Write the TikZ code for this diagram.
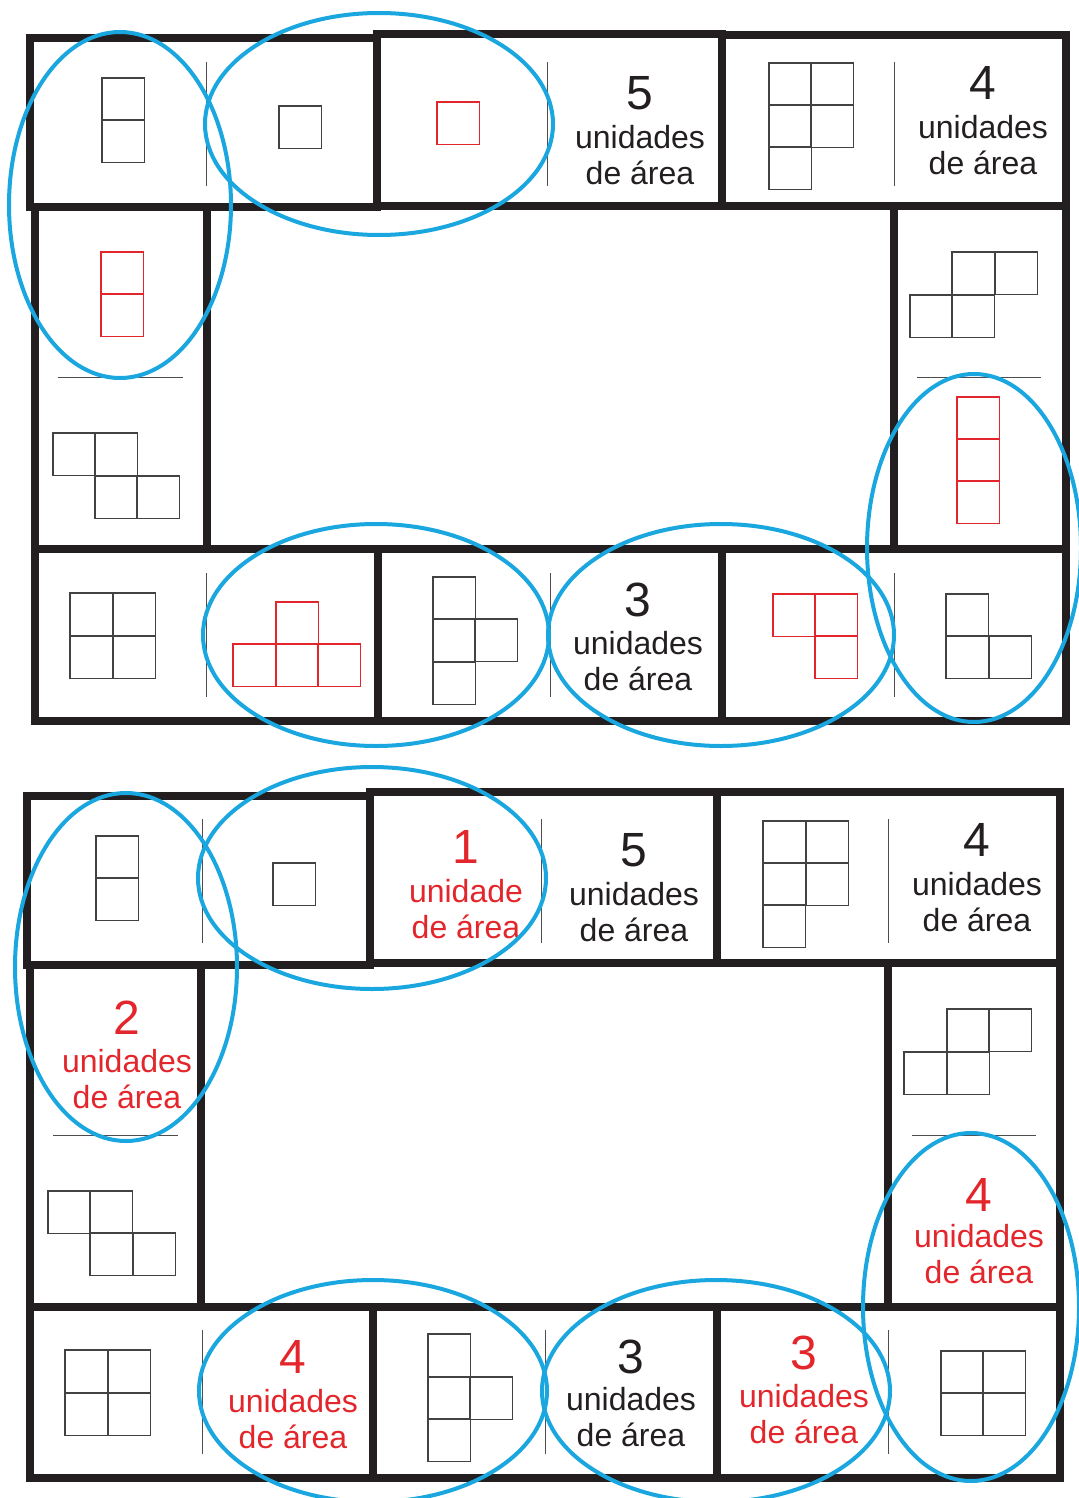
\documentclass[tikz,border=0pt]{standalone}
\usepackage{fontspec}
\setmainfont{Liberation Sans}
\definecolor{ink}{HTML}{231F20}
\definecolor{redink}{HTML}{E3262B}
\definecolor{ringblue}{HTML}{1AA6DE}
\newcommand{\sqcell}[3][cell]{\draw[#1] (#2,#3) rectangle ++(42.5,42.5);}
\tikzset{
  tile/.style={line width=4pt, draw=ink},
  sep/.style={line width=0.5pt, draw=ink!80},
  cell/.style={line width=0.7pt, draw=ink!85},
  redcell/.style={line width=0.6pt, draw=redink},
  ring/.style={line width=2pt, draw=ringblue},
  num/.style={font=\fontsize{24}{24}\selectfont, inner sep=0pt, text=ink},
  txt/.style={font=\fontsize{16}{18}\selectfont, align=center, inner sep=0pt, text=ink},
}
\begin{document}
\begin{tikzpicture}[x=0.5pt, y=-0.5pt, line join=miter]
	\useasboundingbox (0,0) rectangle (1079,1498);
	% first board
	\draw[tile] (30,38) rectangle (377,207);
	\draw[tile] (377,34) rectangle (722,206);
	\draw[tile] (722,35) rectangle (1066,206);
	\draw[tile] (35,207) rectangle (207,549);
	\draw[tile] (894,206) rectangle (1066,549);
	\draw[tile] (35,549) rectangle (378,721);
	\draw[tile] (378,549) rectangle (722,721);
	\draw[tile] (722,549) rectangle (1066,721);
	\foreach \x in {206,547,894} \draw[sep] (\x,62)--(\x,186);
	\foreach \x in {206,550,894} \draw[sep] (\x,573)--(\x,697);
	\draw[sep] (58,377)--(183,377);
	\draw[sep] (917,377)--(1041,377);
	\foreach \x/\y in {102/78,102/120,279/106,769/63,811/63,769/105,811/105,769/147,
		53/433,95/433,95/476,137/476,952/252,995/252,910/295,952/295,
		70/593,113/593,70/636,113/636,433/577,433/619,433/662,475/619,
		946/594,946/636,989/636}
		{\sqcell{\x}{\y}}
	\foreach \x/\y in {437/102,101/252,101/294,957/397,957/439,957/481,
		276/602,233/644,276/644,318/644,773/594,815/594,815/636}
		{\sqcell[redcell]{\x}{\y}}
	\node[num] (n5a) at (640,93) {5};
	\node[txt] (t5a) at (640,155) {unidades\\de área};
	\node[num] (n4a) at (983,83) {4};
	\node[txt] (t4a) at (983,145) {unidades\\de área};
	\node[num] (n3a) at (638,600) {3};
	\node[txt] (t3a) at (638,661) {unidades\\de área};
	\draw[ring] (120,205) ellipse [x radius=55.5pt, y radius=86.5pt];
	\draw[ring] (379,124) ellipse [x radius=87pt, y radius=55.5pt];
	\draw[ring] (376,635) ellipse [x radius=86.5pt, y radius=55.5pt];
	\draw[ring] (721,635) ellipse [x radius=86.5pt, y radius=55.5pt];
	\draw[ring] (974,548) ellipse [x radius=53.5pt, y radius=87pt];
	% second board
	\draw[tile] (27,796) rectangle (370,965);
	\draw[tile] (370,792) rectangle (717,963);
	\draw[tile] (717,792) rectangle (1060,963);
	\draw[tile] (30,965) rectangle (201,1307);
	\draw[tile] (888,963) rectangle (1060,1307);
	\draw[tile] (30,1307) rectangle (373,1478);
	\draw[tile] (373,1307) rectangle (717,1478);
	\draw[tile] (717,1307) rectangle (1060,1478);
	\foreach \x in {202,541,888} \draw[sep] (\x,819)--(\x,943);
	\foreach \x in {202,545,888} \draw[sep] (\x,1330)--(\x,1454);
	\draw[sep] (53,1135)--(178,1135);
	\draw[sep] (912,1135)--(1036,1135);
	\foreach \x/\y in {96/836,96/878,273/863,763/821,806/821,763/863,806/863,763/905,
		48/1191,90/1191,90/1233,133/1233,947/1009,989/1009,904/1052,947/1052,
		65/1350,108/1350,65/1393,108/1393,428/1334,428/1377,428/1419,470/1377,
		941/1351,983/1351,941/1393,983/1393}
		{\sqcell{\x}{\y}}
	\node[num, text=redink] (n1b) at (466,847) {1};
	\node[txt, text=redink] (t1b) at (466,909) {unidade\\de área};
	\node[num] (n5b) at (634,850) {5};
	\node[txt] (t5b) at (634,912) {unidades\\de área};
	\node[num] (n4b) at (977,840) {4};
	\node[txt] (t4b) at (977,902) {unidades\\de área};
	\node[num, text=redink] (n2b) at (127,1018) {2};
	\node[txt, text=redink] (t2b) at (127,1079) {unidades\\de área};
	\node[num, text=redink] (n4c) at (979,1195) {4};
	\node[txt, text=redink] (t4c) at (979,1254) {unidades\\de área};
	\node[num, text=redink] (n4d) at (293,1357) {4};
	\node[txt, text=redink] (t4d) at (293,1419) {unidades\\de área};
	\node[num] (n3b) at (631,1357) {3};
	\node[txt] (t3b) at (631,1417) {unidades\\de área};
	\node[num, text=redink] (n3c) at (804,1353) {3};
	\node[txt, text=redink] (t3c) at (804,1414) {unidades\\de área};
	\draw[ring] (126,967) ellipse [x radius=55.5pt, y radius=87pt];
	\draw[ring] (372,878) ellipse [x radius=87pt, y radius=55.5pt];
	\draw[ring] (373,1391) ellipse [x radius=87pt, y radius=55.5pt];
	\draw[ring] (716,1391) ellipse [x radius=87pt, y radius=55.5pt];
	\draw[ring] (971,1307) ellipse [x radius=54pt, y radius=87pt];
\end{tikzpicture}
\end{document}
